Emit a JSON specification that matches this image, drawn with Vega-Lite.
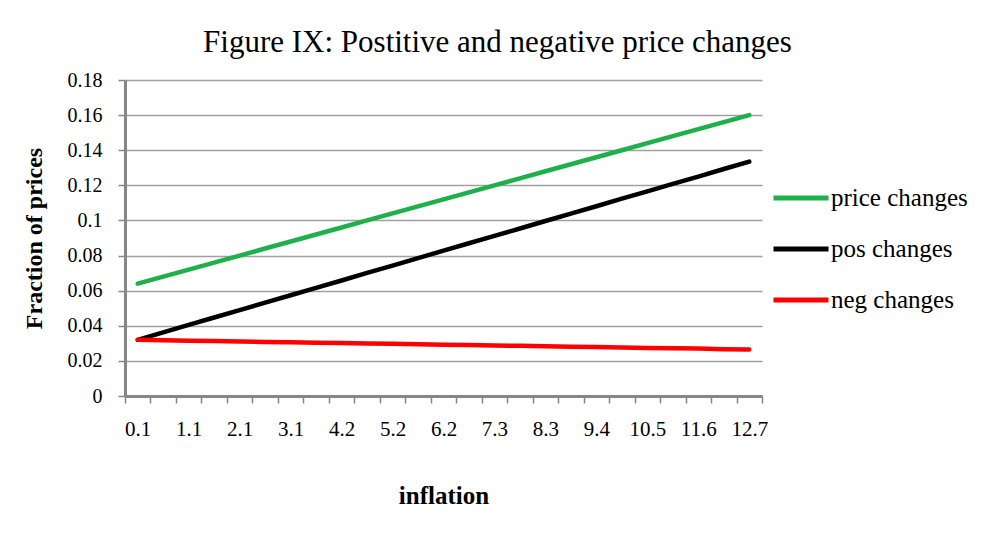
{
  "$schema": "https://vega.github.io/schema/vega-lite/v6.json",
  "width": 637,
  "height": 316,
  "autosize": {"type": "none"},
  "padding": {"left": 125, "top": 80, "right": 233, "bottom": 144},
  "background": "white",
  "config": {
    "font": "Liberation Serif",
    "view": {"stroke": null}
  },
  "title": {
    "text": "Figure IX: Postitive and negative price changes",
    "font": "Liberation Serif",
    "fontSize": 31,
    "fontWeight": "normal",
    "color": "#000000",
    "anchor": "middle",
    "frame": "group",
    "dx": 54,
    "offset": 11
  },
  "data": {
    "values": [
      {"inflation": 0.1, "series": "price changes", "value": 0.064},
      {"inflation": 0.6, "series": "price changes", "value": 0.068},
      {"inflation": 1.1, "series": "price changes", "value": 0.072},
      {"inflation": 1.6, "series": "price changes", "value": 0.076},
      {"inflation": 2.1, "series": "price changes", "value": 0.080},
      {"inflation": 2.6, "series": "price changes", "value": 0.084},
      {"inflation": 3.1, "series": "price changes", "value": 0.088},
      {"inflation": 3.7, "series": "price changes", "value": 0.092},
      {"inflation": 4.2, "series": "price changes", "value": 0.096},
      {"inflation": 4.7, "series": "price changes", "value": 0.100},
      {"inflation": 5.2, "series": "price changes", "value": 0.104},
      {"inflation": 5.7, "series": "price changes", "value": 0.108},
      {"inflation": 6.2, "series": "price changes", "value": 0.112},
      {"inflation": 6.8, "series": "price changes", "value": 0.116},
      {"inflation": 7.3, "series": "price changes", "value": 0.120},
      {"inflation": 7.8, "series": "price changes", "value": 0.124},
      {"inflation": 8.3, "series": "price changes", "value": 0.128},
      {"inflation": 8.9, "series": "price changes", "value": 0.132},
      {"inflation": 9.4, "series": "price changes", "value": 0.136},
      {"inflation": 9.9, "series": "price changes", "value": 0.140},
      {"inflation": 10.5, "series": "price changes", "value": 0.144},
      {"inflation": 11.0, "series": "price changes", "value": 0.148},
      {"inflation": 11.6, "series": "price changes", "value": 0.152},
      {"inflation": 12.1, "series": "price changes", "value": 0.156},
      {"inflation": 12.7, "series": "price changes", "value": 0.160},
      {"inflation": 0.1, "series": "pos changes", "value": 0.0320},
      {"inflation": 0.6, "series": "pos changes", "value": 0.0362},
      {"inflation": 1.1, "series": "pos changes", "value": 0.0405},
      {"inflation": 1.6, "series": "pos changes", "value": 0.0447},
      {"inflation": 2.1, "series": "pos changes", "value": 0.0489},
      {"inflation": 2.6, "series": "pos changes", "value": 0.0532},
      {"inflation": 3.1, "series": "pos changes", "value": 0.0574},
      {"inflation": 3.7, "series": "pos changes", "value": 0.0616},
      {"inflation": 4.2, "series": "pos changes", "value": 0.0658},
      {"inflation": 4.7, "series": "pos changes", "value": 0.0701},
      {"inflation": 5.2, "series": "pos changes", "value": 0.0743},
      {"inflation": 5.7, "series": "pos changes", "value": 0.0785},
      {"inflation": 6.2, "series": "pos changes", "value": 0.0828},
      {"inflation": 6.8, "series": "pos changes", "value": 0.0870},
      {"inflation": 7.3, "series": "pos changes", "value": 0.0912},
      {"inflation": 7.8, "series": "pos changes", "value": 0.0954},
      {"inflation": 8.3, "series": "pos changes", "value": 0.0997},
      {"inflation": 8.9, "series": "pos changes", "value": 0.1039},
      {"inflation": 9.4, "series": "pos changes", "value": 0.1081},
      {"inflation": 9.9, "series": "pos changes", "value": 0.1124},
      {"inflation": 10.5, "series": "pos changes", "value": 0.1166},
      {"inflation": 11.0, "series": "pos changes", "value": 0.1208},
      {"inflation": 11.6, "series": "pos changes", "value": 0.1250},
      {"inflation": 12.1, "series": "pos changes", "value": 0.1293},
      {"inflation": 12.7, "series": "pos changes", "value": 0.1335},
      {"inflation": 0.1, "series": "neg changes", "value": 0.0320},
      {"inflation": 0.6, "series": "neg changes", "value": 0.0318},
      {"inflation": 1.1, "series": "neg changes", "value": 0.0315},
      {"inflation": 1.6, "series": "neg changes", "value": 0.0313},
      {"inflation": 2.1, "series": "neg changes", "value": 0.0311},
      {"inflation": 2.6, "series": "neg changes", "value": 0.0308},
      {"inflation": 3.1, "series": "neg changes", "value": 0.0306},
      {"inflation": 3.7, "series": "neg changes", "value": 0.0304},
      {"inflation": 4.2, "series": "neg changes", "value": 0.0302},
      {"inflation": 4.7, "series": "neg changes", "value": 0.0299},
      {"inflation": 5.2, "series": "neg changes", "value": 0.0297},
      {"inflation": 5.7, "series": "neg changes", "value": 0.0295},
      {"inflation": 6.2, "series": "neg changes", "value": 0.0292},
      {"inflation": 6.8, "series": "neg changes", "value": 0.0290},
      {"inflation": 7.3, "series": "neg changes", "value": 0.0288},
      {"inflation": 7.8, "series": "neg changes", "value": 0.0286},
      {"inflation": 8.3, "series": "neg changes", "value": 0.0283},
      {"inflation": 8.9, "series": "neg changes", "value": 0.0281},
      {"inflation": 9.4, "series": "neg changes", "value": 0.0279},
      {"inflation": 9.9, "series": "neg changes", "value": 0.0276},
      {"inflation": 10.5, "series": "neg changes", "value": 0.0274},
      {"inflation": 11.0, "series": "neg changes", "value": 0.0272},
      {"inflation": 11.6, "series": "neg changes", "value": 0.0270},
      {"inflation": 12.1, "series": "neg changes", "value": 0.0267},
      {"inflation": 12.7, "series": "neg changes", "value": 0.0265}
    ]
  },
  "mark": {"type": "line", "strokeWidth": 4.5, "strokeCap": "round"},
  "encoding": {
    "x": {
      "field": "inflation",
      "type": "ordinal",
      "scale": {"type": "band", "paddingInner": 0, "paddingOuter": 0},
      "axis": {
        "title": "inflation",
        "titleFont": "Liberation Serif",
        "titleFontSize": 25,
        "titleFontWeight": "bold",
        "titleColor": "#000000",
        "titlePadding": 44,
        "labelAngle": 0,
        "labelFont": "Liberation Serif",
        "labelFontSize": 21,
        "labelColor": "#000000",
        "labelPadding": 15,
        "labelExpr": "indexof([0.1,1.1,2.1,3.1,4.2,5.2,6.2,7.3,8.3,9.4,10.5,11.6,12.7], datum.value) >= 0 ? datum.label : ''",
        "tickBand": "extent",
        "tickSize": 7,
        "tickColor": "#868686",
        "tickWidth": 1.5,
        "domainColor": "#868686",
        "domainWidth": 3,
        "grid": false
      }
    },
    "y": {
      "field": "value",
      "type": "quantitative",
      "scale": {"domain": [0, 0.18], "nice": false},
      "axis": {
        "title": "Fraction of prices",
        "titleFont": "Liberation Serif",
        "titleFontSize": 24,
        "titleFontWeight": "bold",
        "titleColor": "#000000",
        "titlePadding": 21,
        "values": [0, 0.02, 0.04, 0.06, 0.08, 0.1, 0.12, 0.14, 0.16, 0.18],
        "labelExpr": "datum.value == 0 ? '0' : format(datum.value, '.2~f')",
        "labelFont": "Liberation Serif",
        "labelFontSize": 20,
        "labelColor": "#000000",
        "labelPadding": 16,
        "tickSize": 7,
        "tickColor": "#868686",
        "tickWidth": 1.5,
        "domainColor": "#868686",
        "domainWidth": 3,
        "grid": true,
        "gridColor": "#a0a0a0",
        "gridWidth": 1.5
      }
    },
    "color": {
      "field": "series",
      "type": "nominal",
      "scale": {
        "domain": ["price changes", "pos changes", "neg changes"],
        "range": ["#1fb04b", "#000000", "#ff0000"]
      },
      "legend": {
        "title": null,
        "orient": "none",
        "legendX": 646,
        "legendY": 88,
        "symbolType": "stroke",
        "symbolSize": 3025,
        "symbolStrokeWidth": 5,
        "labelFont": "Liberation Serif",
        "labelFontSize": 25,
        "labelColor": "#000000",
        "labelOffset": 0,
        "rowPadding": 8
      }
    }
  }
}
